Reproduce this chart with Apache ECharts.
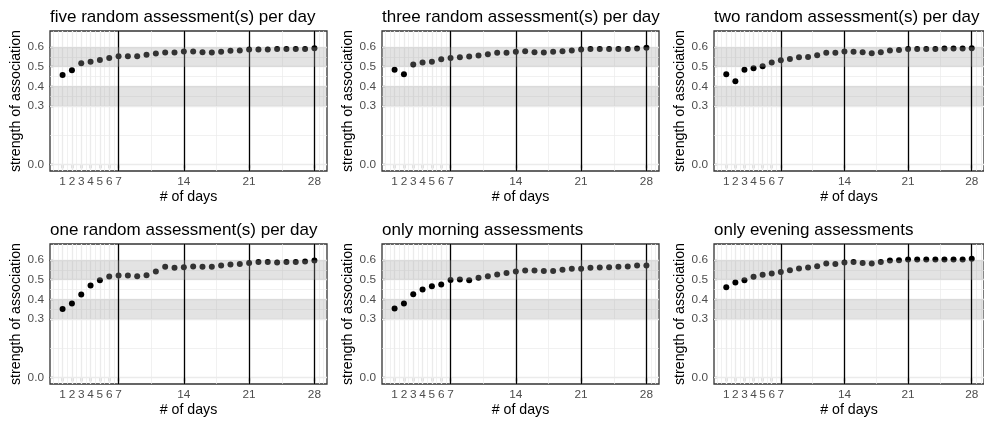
<!DOCTYPE html>
<html><head><meta charset="utf-8">
<script src="https://cdn.jsdelivr.net/npm/echarts@6/dist/echarts.min.js"></script>
<style>html,body{margin:0;padding:0;background:#fff}#c{width:984px;height:423px}</style>
</head><body><div id="c"></div>
<script>
const days = [1,2,3,4,5,6,7,8,9,10,11,12,13,14,15,16,17,18,19,20,21,22,23,24,25,26,27,28];
const panelTitles = ['five random assessment(s) per day','three random assessment(s) per day','two random assessment(s) per day','one random assessment(s) per day','only morning assessments','only evening assessments'];
const fiveRandom  = [0.458,0.482,0.518,0.526,0.535,0.545,0.554,0.554,0.554,0.561,0.568,0.573,0.573,0.578,0.578,0.574,0.573,0.576,0.581,0.583,0.588,0.588,0.588,0.590,0.590,0.590,0.591,0.595];
const threeRandom = [0.484,0.462,0.511,0.521,0.526,0.538,0.545,0.549,0.552,0.557,0.564,0.571,0.571,0.576,0.579,0.574,0.573,0.576,0.579,0.583,0.588,0.590,0.590,0.590,0.590,0.590,0.593,0.597];
const twoRandom   = [0.462,0.426,0.485,0.492,0.503,0.521,0.533,0.540,0.549,0.550,0.559,0.571,0.571,0.578,0.576,0.574,0.569,0.574,0.583,0.585,0.591,0.591,0.591,0.591,0.593,0.593,0.593,0.595];
const oneRandom   = [0.351,0.379,0.425,0.471,0.498,0.517,0.522,0.522,0.518,0.523,0.542,0.566,0.561,0.564,0.568,0.566,0.566,0.573,0.578,0.580,0.586,0.590,0.590,0.588,0.590,0.591,0.593,0.598];
const morningOnly = [0.353,0.379,0.426,0.450,0.467,0.476,0.499,0.501,0.498,0.510,0.518,0.527,0.535,0.542,0.547,0.547,0.545,0.545,0.551,0.556,0.556,0.561,0.563,0.564,0.566,0.568,0.573,0.573];
const eveningOnly = [0.462,0.486,0.498,0.515,0.525,0.532,0.540,0.549,0.557,0.563,0.569,0.583,0.580,0.588,0.590,0.585,0.583,0.591,0.598,0.600,0.603,0.603,0.603,0.603,0.603,0.603,0.603,0.607];
const xTickLabels = [1,2,3,4,5,6,7,14,21,28];
const yTickLabels = [0,0.3,0.4,0.5,0.6];
const xMinorGrid = [0,0.5,1.5,2.5,3.5,4.5,5.5,6.5,10.5,17.5,24.5,28.5,29];
const yMinorGrid = [0.15,0.35,0.45,0.55];
const weekLines = [7,14,21,28];
const lowerBand = [0.3,0.4];
const upperBand = [0.5,0.6];

const panelData = [fiveRandom,threeRandom,twoRandom,oneRandom,morningOnly,eveningOnly];
const FONT = 'Liberation Sans, Arial, Helvetica, sans-serif';
const X_MIN = -0.35, X_MAX = 29.35, Y_MIN = -0.0325, Y_MAX = 0.6825;
const lefts = [50,382,714], tops = [31,244], W = 277, H = 140;

function vLine(v, style) { return [{coord: [v, Y_MIN], lineStyle: style}, {coord: [v, Y_MAX]}]; }
function hLine(v, style) { return [{coord: [X_MIN, v], lineStyle: style}, {coord: [X_MAX, v]}]; }

const grids = [], xAxes = [], yAxes = [], series = [], titles = [];
panelData.forEach((vals, i) => {
  const r = Math.floor(i/3), c = i%3;
  grids.push({left: lefts[c], top: tops[r], width: W, height: H, show: true, borderColor: '#333', borderWidth: 1.3, backgroundColor: 'transparent'});
  titles.push({text: panelTitles[i], left: lefts[c], top: tops[r]-22, padding: 0,
    textStyle: {fontSize: 17, fontWeight: 'normal', color: '#000', fontFamily: FONT}});
  xAxes.push({type: 'value', gridIndex: i, min: X_MIN, max: X_MAX,
    axisLine: {show: false}, splitLine: {show: false},
    axisTick: {show: true, customValues: xTickLabels, length: 3.7, lineStyle: {color: '#333', width: 1.3}},
    axisLabel: {customValues: xTickLabels, margin: 5, fontSize: 11.8, color: '#4d4d4d', fontFamily: FONT},
    name: '# of days', nameLocation: 'middle', nameGap: 19,
    nameTextStyle: {fontSize: 14.2, color: '#000', fontFamily: FONT}});
  yAxes.push({type: 'value', gridIndex: i, min: Y_MIN, max: Y_MAX,
    axisLine: {show: false}, splitLine: {show: false},
    axisTick: {show: true, customValues: yTickLabels, length: 3.7, lineStyle: {color: '#333', width: 1.3}},
    axisLabel: {customValues: yTickLabels, margin: 6, fontSize: 11.8, color: '#4d4d4d', fontFamily: FONT,
      formatter: v => v.toFixed(1)},
    name: 'strength of association', nameLocation: 'middle', nameGap: 27, nameRotate: 90,
    nameTextStyle: {fontSize: 14.2, color: '#000', fontFamily: FONT}});
  const minor = {color: '#ebebeb', width: 0.7, type: 'solid'};
  const major = {color: '#ebebeb', width: 1.3, type: 'solid'};
  const week = {color: '#000', width: 1.3, type: 'solid'};
  const gridLineData = [];
  xMinorGrid.forEach(v => gridLineData.push(vLine(v, minor)));
  yMinorGrid.forEach(v => gridLineData.push(hLine(v, minor)));
  xTickLabels.forEach(v => gridLineData.push(vLine(v, major)));
  yTickLabels.forEach(v => gridLineData.push(hLine(v, major)));
  const base = {type: 'line', xAxisIndex: i, yAxisIndex: i, data: [], silent: true, animation: false};
  const mlBase = {silent: true, symbol: 'none', label: {show: false}, animation: false, emphasis: {disabled: true}};
  series.push(Object.assign({}, base, {z: 1, markLine: Object.assign({}, mlBase, {z: 1, lineStyle: minor, data: gridLineData})}));
  series.push(Object.assign({}, base, {z: 2, markArea: {z: 2, silent: true, animation: false, itemStyle: {color: 'rgba(165,165,165,0.31)'},
    data: [[{coord: [X_MIN, lowerBand[0]]}, {coord: [X_MAX, lowerBand[1]]}]]}}));
  series.push(Object.assign({}, base, {z: 3, markLine: Object.assign({}, mlBase, {z: 3,
    lineStyle: week, data: weekLines.map(v => vLine(v, week))})}));
  series.push({type: 'scatter', xAxisIndex: i, yAxisIndex: i, z: 4, symbolSize: 6, animation: false, silent: true,
    itemStyle: {color: '#000', opacity: 1}, data: days.map((d, k) => [d, vals[k]])});
  series.push(Object.assign({}, base, {z: 5, markArea: {z: 5, silent: true, animation: false, itemStyle: {color: 'rgba(165,165,165,0.31)'},
    data: [[{coord: [X_MIN, upperBand[0]]}, {coord: [X_MAX, upperBand[1]]}]]}}));
});

const chart = echarts.init(document.getElementById('c'), null, {renderer: 'canvas'});
chart.setOption({animation: false, backgroundColor: '#fff', title: titles, grid: grids, xAxis: xAxes, yAxis: yAxes, series: series});
</script></body></html>
